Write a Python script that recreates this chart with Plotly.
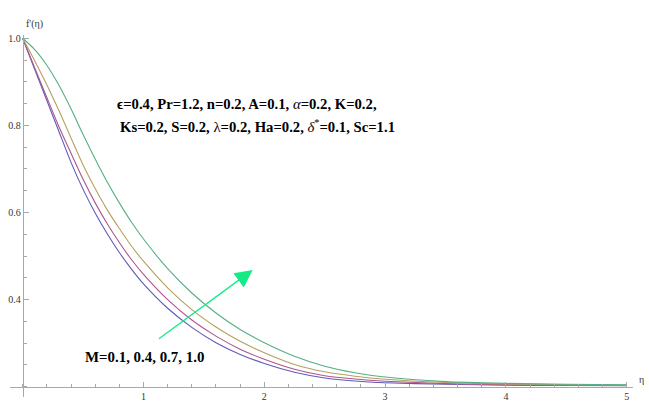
import plotly.graph_objects as go

# ---- data ----
eta = [0, 0.1, 0.2, 0.3, 0.4, 0.5, 0.6, 0.7, 0.8, 0.9, 1.0, 1.2, 1.4, 1.6, 1.8, 2.0,
       2.25, 2.5, 2.75, 3.0, 3.5, 4.0, 4.5, 5.0]
m_labels = ["M=0.1", "M=0.4", "M=0.7", "M=1.0"]
f_m01 = [1.0, 0.928, 0.857, 0.786, 0.715, 0.653, 0.599, 0.551, 0.508, 0.470, 0.436,
         0.380, 0.336, 0.301, 0.274, 0.253, 0.233, 0.220, 0.213, 0.209, 0.2055, 0.2035, 0.2025, 0.202]
f_m04 = [1.0, 0.932, 0.864, 0.797, 0.736, 0.676, 0.622, 0.574, 0.531, 0.492, 0.458,
         0.400, 0.353, 0.316, 0.286, 0.263, 0.240, 0.225, 0.2175, 0.2125, 0.207, 0.2045, 0.203, 0.2025]
f_m07 = [1.0, 0.948, 0.893, 0.834, 0.771, 0.709, 0.655, 0.606, 0.563, 0.523, 0.488,
         0.427, 0.377, 0.337, 0.304, 0.278, 0.251, 0.234, 0.224, 0.217, 0.2095, 0.206, 0.2045, 0.2035]
f_m10 = [1.0, 0.974, 0.938, 0.892, 0.838, 0.779, 0.723, 0.670, 0.622, 0.578, 0.539,
         0.471, 0.415, 0.369, 0.331, 0.301, 0.270, 0.247, 0.232, 0.222, 0.2115, 0.2075, 0.2055, 0.2045]
series = [f_m01, f_m04, f_m07, f_m10]
colors = ["rgb(95,90,185)", "rgb(175,85,140)", "rgb(180,160,95)", "rgb(85,175,130)"]

x_ticks = [1, 2, 3, 4, 5]
y_ticks = [0.4, 0.6, 0.8, 1.0]
y_ticktext = ["0.4", "0.6", "0.8", "1.0"]

x_range = [-0.105, 5.052]
y_range = [0.1762, 1.0075]
axis_cross_y = 0.2

# annotation positions (data units)
arrow_tail = (1.103, 0.305)
arrow_tip = (1.904, 0.468)

fig = go.Figure()
for ys, c, name in zip(series, colors, m_labels):
    fig.add_trace(go.Scatter(x=eta, y=ys, mode="lines", name=name,
                             line=dict(color=c, width=1.1, shape="spline", smoothing=0.6),
                             showlegend=False, hoverinfo="skip"))

axcol = "#a8a8a8"
tickfont = dict(family="Liberation Serif", size=10, color="#333")
x_pos = (axis_cross_y - y_range[0]) / (y_range[1] - y_range[0])
y_pos = (0 - x_range[0]) / (x_range[1] - x_range[0])

fig.update_layout(
    width=649, height=403,
    margin=dict(l=10, r=16, t=35, b=1),
    paper_bgcolor="white", plot_bgcolor="white",
    xaxis=dict(range=x_range, showgrid=False, zeroline=False,
               showline=True, linecolor=axcol, linewidth=1,
               anchor="free", position=x_pos,
               tickvals=x_ticks, ticks="inside", ticklen=5, tickcolor=axcol,
               tickfont=tickfont,
               minor=dict(dtick=0.2, tick0=0, ticks="inside", ticklen=3, tickcolor=axcol)),
    yaxis=dict(range=y_range, showgrid=False, zeroline=False,
               showline=True, linecolor=axcol, linewidth=1,
               anchor="free", position=y_pos,
               tickvals=y_ticks, ticktext=y_ticktext, ticks="inside", ticklen=5, tickcolor=axcol,
               tickfont=tickfont,
               minor=dict(dtick=0.05, tick0=0, ticks="inside", ticklen=3, tickcolor=axcol)),
)

txtfont = dict(family="Liberation Serif", size=14.7, color="black")
fig.add_annotation(x=0.764, y=0.849, xref="x", yref="y", xanchor="left", yanchor="middle",
                   showarrow=False, font=txtfont,
                   text="<b>ϵ=0.4, Pr=1.2, n=0.2, A=0.1, </b><i>α</i><b>=0.2, K=0.2,</b>")
fig.add_annotation(x=0.791, y=0.799, xref="x", yref="y", xanchor="left", yanchor="middle",
                   showarrow=False, font=txtfont,
                   text="<b>Ks=0.2, S=0.2, </b>λ<b>=0.2, Ha=0.2, </b><i>δ</i><sup>*</sup><b>=0.1, Sc=1.1</b>")
fig.add_annotation(x=0.497, y=0.269, xref="x", yref="y", xanchor="left", yanchor="middle",
                   showarrow=False, font=dict(family="Liberation Serif", size=14.9, color="black"),
                   text="<b>M=0.1, 0.4, 0.7, 1.0</b>")

fig.add_annotation(x=arrow_tip[0], y=arrow_tip[1], ax=arrow_tail[0], ay=arrow_tail[1],
                   xref="x", yref="y", axref="x", ayref="y", text=" ",
                   showarrow=True, arrowhead=2, arrowsize=2.7, arrowwidth=1.3,
                   arrowcolor="rgb(20,235,135)")

fig.add_annotation(x=0.0225, y=1.053, xref="paper", yref="paper", showarrow=False,
                   text="f'(η)", font=dict(family="Liberation Serif", size=10, color="#333"))
fig.add_annotation(x=1.006, y=x_pos, xref="paper", yref="paper", xanchor="left", showarrow=False,
                   text="η", font=dict(family="Liberation Serif", size=10, color="#333"))

fig.write_html("out.html")
